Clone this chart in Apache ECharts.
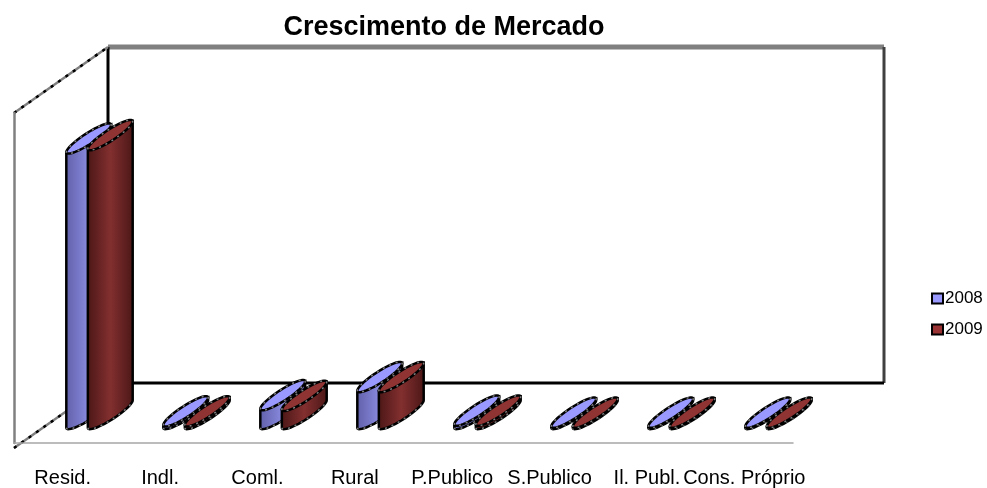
<!DOCTYPE html>
<html>
<head>
<meta charset="utf-8">
<style>
  html, body { margin: 0; padding: 0; background: #fff; }
  #main { width: 987px; height: 488px; }
</style>
<script src="https://cdn.jsdelivr.net/npm/echarts@6/dist/echarts.min.js"></script>
</head>
<body>
<div id="main"></div>
<script>
const categories = ['Resid.', 'Indl.', 'Coml.', 'Rural', 'P.Publico', 'S.Publico', 'Il. Publ.', 'Cons. Próprio'];
const years = ['2008', '2009'];
const values2008 = [82, 0.8, 5.6, 11, 1, 0.4, 0.4, 0.4];
const values2009 = [83, 0.8, 5.4, 11, 1, 0.4, 0.4, 0.4];

const chart = echarts.init(document.getElementById('main'));

// the picture is a fake 3d: back wall is the front wall moved by this much
const wall = { left: 14, top: 113, width: 779, height: 335 };
const depthX = 94;
const depthY = -66;
const backRight = 884;

// tilted ellipse of the cylinder caps
const capLong = 26.5;
const capShort = 5.5;
const capAngle = -33 * Math.PI / 180;

function ellipsePoints(cx, cy) {
  const pts = [];
  for (let i = 0; i < 48; i++) {
    const t = i / 48 * Math.PI * 2;
    const u = capLong * Math.cos(t);
    const v = capShort * Math.sin(t);
    pts.push([
      cx + u * Math.cos(capAngle) - v * Math.sin(capAngle),
      cy + u * Math.sin(capAngle) + v * Math.cos(capAngle)
    ]);
  }
  return pts;
}

function cylinder(side, edge, mid, capColor) {
  return function (params, api) {
    const idx = api.value(0);
    const val = api.value(1);
    const base = api.coord([idx, 0]);
    const top = api.coord([idx, val]);
    const cx = base[0] + side * api.size([1, 0])[0] * 0.111;

    const bottomPts = ellipsePoints(cx, base[1]);
    const topPts = ellipsePoints(cx, top[1]);

    // silhouette: lower half of the base ellipse, then straight up both sides
    let l = 0, r = 0;
    bottomPts.forEach((p, i) => {
      if (p[0] < bottomPts[l][0]) l = i;
      if (p[0] > bottomPts[r][0]) r = i;
    });
    const lower = [];
    for (let i = l; ; i = (i + 47) % 48) {
      lower.push(bottomPts[i]);
      if (i === r) break;
    }
    const body = [topPts[l]].concat(lower, [topPts[r]]);

    return {
      type: 'group',
      children: [
        {
          type: 'polygon',
          shape: { points: body },
          style: {
            fill: new echarts.graphic.LinearGradient(0, 0, 1, 0, [
              { offset: 0, color: edge },
              { offset: 0.5, color: mid },
              { offset: 1, color: edge }
            ]),
            stroke: '#000',
            lineWidth: 2.5
          }
        },
        {
          type: 'polyline',
          shape: { points: lower },
          style: { fill: 'none', stroke: '#808080', lineWidth: 1.5, lineDash: [2, 5] }
        },
        {
          type: 'polygon',
          shape: { points: topPts },
          style: { fill: capColor, stroke: '#000', lineWidth: 2.5 }
        },
        {
          type: 'polygon',
          shape: { points: topPts },
          style: { fill: 'none', stroke: '#808080', lineWidth: 1.5, lineDash: [2, 5] }
        }
      ]
    };
  };
}

const wallLine = (x1, y1, x2, y2, color, width, dash) => ({
  type: 'line',
  shape: { x1, y1, x2, y2 },
  style: { stroke: color, lineWidth: width, lineDash: dash },
  z: 0
});

const backLeft = wall.left + depthX;
const backTop = wall.top + depthY;
const backBottom = wall.top + wall.height + depthY;
const frontBottom = wall.top + wall.height;

chart.setOption({
  animation: false,
  title: {
    text: 'Crescimento de Mercado',
    left: 439,
    top: 9,
    textAlign: 'center',
    textStyle: { fontFamily: 'Liberation Sans', fontSize: 27, fontWeight: 'bold', color: '#000' }
  },
  legend: {
    data: years,
    orient: 'vertical',
    left: 926,
    top: 285,
    icon: 'rect',
    itemWidth: 11,
    itemHeight: 10,
    itemGap: 14,
    textStyle: { fontFamily: 'Liberation Sans', fontSize: 17, color: '#000', padding: [0, 0, 0, -3] }
  },
  graphic: [
    wallLine(backLeft, backTop, backRight, backTop, '#808080', 5),
    wallLine(backRight, backTop, backRight, backBottom + 1, '#404040', 3),
    wallLine(backLeft, backBottom + 1, backRight, backBottom + 1, '#000', 3),
    wallLine(backLeft, backTop, backLeft, backBottom, '#000', 3),
    wallLine(wall.left, wall.top, backLeft, backTop, '#808080', 2.5),
    wallLine(wall.left, wall.top, backLeft, backTop, '#000', 2.5, [3, 6]),
    wallLine(wall.left, frontBottom, backLeft, backBottom, '#808080', 2.5),
    wallLine(wall.left, frontBottom, backLeft, backBottom, '#000', 2.5, [3, 6])
  ],
  grid: [
    // plane the cylinders stand on, in the middle of the floor
    { left: 51, top: 78, width: 776, height: 336 },
    // front plane, carries the labels
    { left: wall.left, top: wall.top, width: wall.width, height: wall.height }
  ],
  xAxis: [
    { type: 'category', gridIndex: 0, data: categories, axisLine: { show: false }, axisTick: { show: false }, axisLabel: { show: false } },
    {
      type: 'category',
      gridIndex: 1,
      data: categories,
      axisLine: { lineStyle: { color: '#a6a6a6', width: 1.5 } },
      axisTick: { show: false },
      axisLabel: { interval: 0, margin: 25, fontFamily: 'Liberation Sans', fontSize: 20, color: '#000' }
    }
  ],
  yAxis: [
    { type: 'value', gridIndex: 0, min: 0, max: 100, show: false },
    {
      type: 'value',
      gridIndex: 1,
      min: 0,
      max: 100,
      splitLine: { show: false },
      axisLine: { show: true, lineStyle: { color: '#808080', width: 2.5 } },
      axisTick: { show: false },
      axisLabel: { show: false }
    }
  ],
  series: [
    {
      name: years[0],
      type: 'custom',
      xAxisIndex: 0,
      yAxisIndex: 0,
      clip: false,
      itemStyle: { color: '#9999ff', borderColor: '#000', borderWidth: 2 },
      encode: { x: 0, y: 1 },
      data: values2008.map((v, i) => [i, v]),
      renderItem: cylinder(-1, '#5f5fa8', '#8a8ae0', '#9999ff')
    },
    {
      name: years[1],
      type: 'custom',
      xAxisIndex: 0,
      yAxisIndex: 0,
      clip: false,
      itemStyle: { color: '#993333', borderColor: '#000', borderWidth: 2 },
      encode: { x: 0, y: 1 },
      data: values2009.map((v, i) => [i, v]),
      renderItem: cylinder(1, '#4a1616', '#832f2f', '#8f3333')
    }
  ]
});
</script>
</body>
</html>
